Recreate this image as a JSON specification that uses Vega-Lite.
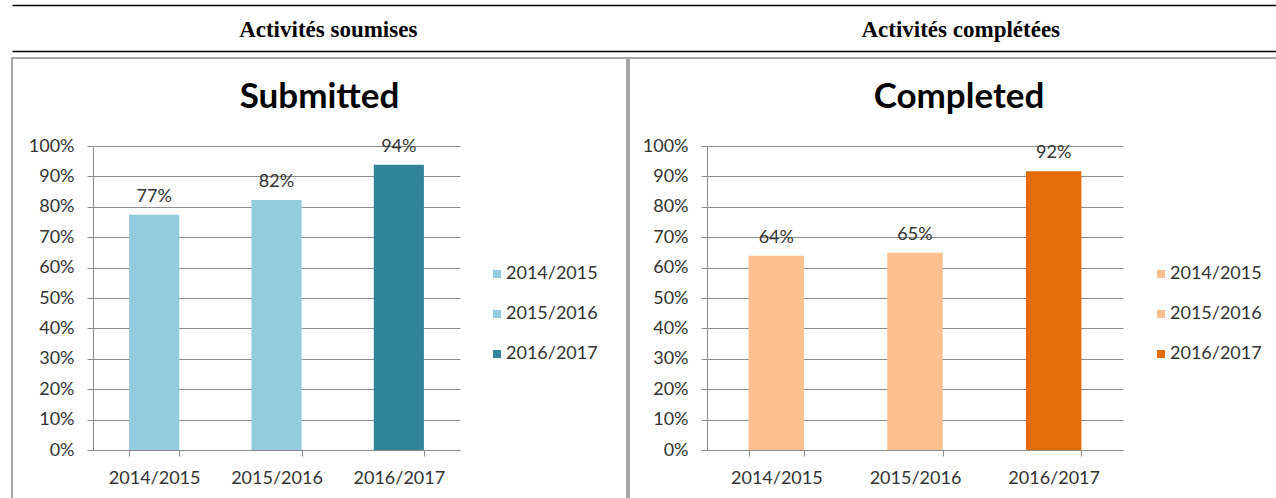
{
  "$schema": "https://vega.github.io/schema/vega-lite/v6.json",
  "padding": {"left": 11, "top": 5, "right": 0, "bottom": 0},
  "background": "white",
  "spacing": 5,
  "config": {
    "view": {"stroke": "#a6a6a6", "strokeWidth": 2},
    "axis": {"labelFont": "Lato", "labelFontSize": 18, "labelColor": "#333333", "domainColor": "#8c8c8c", "tickColor": "#8c8c8c", "gridColor": "#8c8c8c"},
    "legend": {"labelFont": "Lato", "labelFontSize": 18, "labelColor": "#333333"},
    "text": {"font": "Lato"}
  },
  "datasets": {
    "header": [
      {"col": "a", "label": "Activités soumises"},
      {"col": "b", "label": "Activités complétées"}
    ],
    "submitted": [
      {"year": "2014/2015", "value": 0.774},
      {"year": "2015/2016", "value": 0.822},
      {"year": "2016/2017", "value": 0.938}
    ],
    "completed": [
      {"year": "2014/2015", "value": 0.639},
      {"year": "2015/2016", "value": 0.649},
      {"year": "2016/2017", "value": 0.917}
    ]
  },
  "vconcat": [
    {
      "spacing": 0,
      "vconcat": [
        {
          "width": 1265,
          "height": 45,
          "view": {"stroke": null},
          "data": {"name": "header"},
          "mark": {"type": "text", "font": "Liberation Serif", "fontWeight": "bold", "fontSize": 23, "color": "black", "dy": 2},
          "encoding": {
            "x": {"field": "col", "type": "nominal", "scale": {"paddingInner": 0, "paddingOuter": 0},
                  "axis": {"orient": "top", "labels": false, "ticks": false, "title": null, "domainColor": "black", "domainWidth": 1.5, "minExtent": 0, "maxExtent": 0}},
            "text": {"field": "label"}
          }
        },
        {
          "width": 1265,
          "height": 1,
          "view": {"stroke": null},
          "data": {"name": "header"},
          "mark": {"type": "text", "opacity": 0, "fontSize": 1},
          "encoding": {
            "x": {"field": "col", "type": "nominal", "scale": {"paddingInner": 0, "paddingOuter": 0},
                  "axis": {"orient": "top", "labels": false, "ticks": false, "title": null, "domainColor": "black", "domainWidth": 1.5, "minExtent": 0, "maxExtent": 0}},
            "text": {"field": "col"}
          }
        }
      ]
    },
    {
      "spacing": 0,
      "hconcat": [
        {
          "width": 615,
          "height": 450,
          "title": {"text": "Submitted", "font": "Lato", "fontSize": 35, "fontWeight": "bold", "color": "black", "offset": -74, "baseline": "middle", "anchor": "middle"},
          "data": {"name": "submitted"},
          "encoding": {
            "x": {"field": "year", "type": "nominal", "sort": null,
                  "scale": {"range": [81, 448], "paddingInner": 0.59, "paddingOuter": 0.295},
                  "axis": {"orient": "bottom", "offset": -58, "title": null, "labelAngle": 0, "tickBand": "extent", "tickSize": 6, "labelPadding": 13, "grid": false}},
            "y": {"field": "value", "type": "quantitative",
                  "scale": {"domain": [0, 1], "range": [392, 88]},
                  "axis": {"orient": "left", "offset": -81, "values": [0, 0.1, 0.2, 0.3, 0.4, 0.5, 0.6, 0.7, 0.8, 0.9, 1], "format": ".0%", "grid": true, "tickSize": 6, "labelPadding": 13, "title": null}}
          },
          "layer": [
            {
              "mark": {"type": "bar"},
              "encoding": {
                "color": {"field": "year", "type": "nominal",
                          "scale": {"domain": ["2014/2015", "2015/2016", "2016/2017"], "range": ["#93CDDD", "#93CDDD", "#31849B"]},
                          "legend": {"orient": "none", "legendX": 476, "legendY": 207, "title": null, "symbolType": "square", "symbolSize": 64, "symbolStrokeWidth": 0, "rowPadding": 22, "labelOffset": 0, "padding": 0}}
              }
            },
            {
              "mark": {"type": "text", "dy": -13, "baseline": "alphabetic", "fontSize": 18, "color": "#333333"},
              "encoding": {"text": {"field": "value", "format": ".0%"}}
            }
          ]
        },
        {
          "width": 660,
          "height": 450,
          "title": {"text": "Completed", "font": "Lato", "fontSize": 35, "fontWeight": "bold", "color": "black", "offset": -74, "baseline": "middle", "anchor": "middle"},
          "data": {"name": "completed"},
          "encoding": {
            "x": {"field": "year", "type": "nominal", "sort": null,
                  "scale": {"range": [78, 494], "paddingInner": 0.6, "paddingOuter": 0.3},
                  "axis": {"orient": "bottom", "offset": -58, "title": null, "labelAngle": 0, "tickBand": "extent", "tickSize": 6, "labelPadding": 13, "grid": false}},
            "y": {"field": "value", "type": "quantitative",
                  "scale": {"domain": [0, 1], "range": [392, 88]},
                  "axis": {"orient": "left", "offset": -78, "values": [0, 0.1, 0.2, 0.3, 0.4, 0.5, 0.6, 0.7, 0.8, 0.9, 1], "format": ".0%", "grid": true, "tickSize": 6, "labelPadding": 13, "title": null}}
          },
          "layer": [
            {
              "mark": {"type": "bar"},
              "encoding": {
                "color": {"field": "year", "type": "nominal",
                          "scale": {"domain": ["2014/2015", "2015/2016", "2016/2017"], "range": ["#FAC090", "#FAC090", "#E46C0A"]},
                          "legend": {"orient": "none", "legendX": 523, "legendY": 207, "title": null, "symbolType": "square", "symbolSize": 64, "symbolStrokeWidth": 0, "rowPadding": 22, "labelOffset": 0, "padding": 0}}
              }
            },
            {
              "mark": {"type": "text", "dy": -13, "baseline": "alphabetic", "fontSize": 18, "color": "#333333"},
              "encoding": {"text": {"field": "value", "format": ".0%"}}
            }
          ]
        }
      ],
      "resolve": {"scale": {"color": "independent"}, "legend": {"color": "independent"}}
    }
  ]
}
